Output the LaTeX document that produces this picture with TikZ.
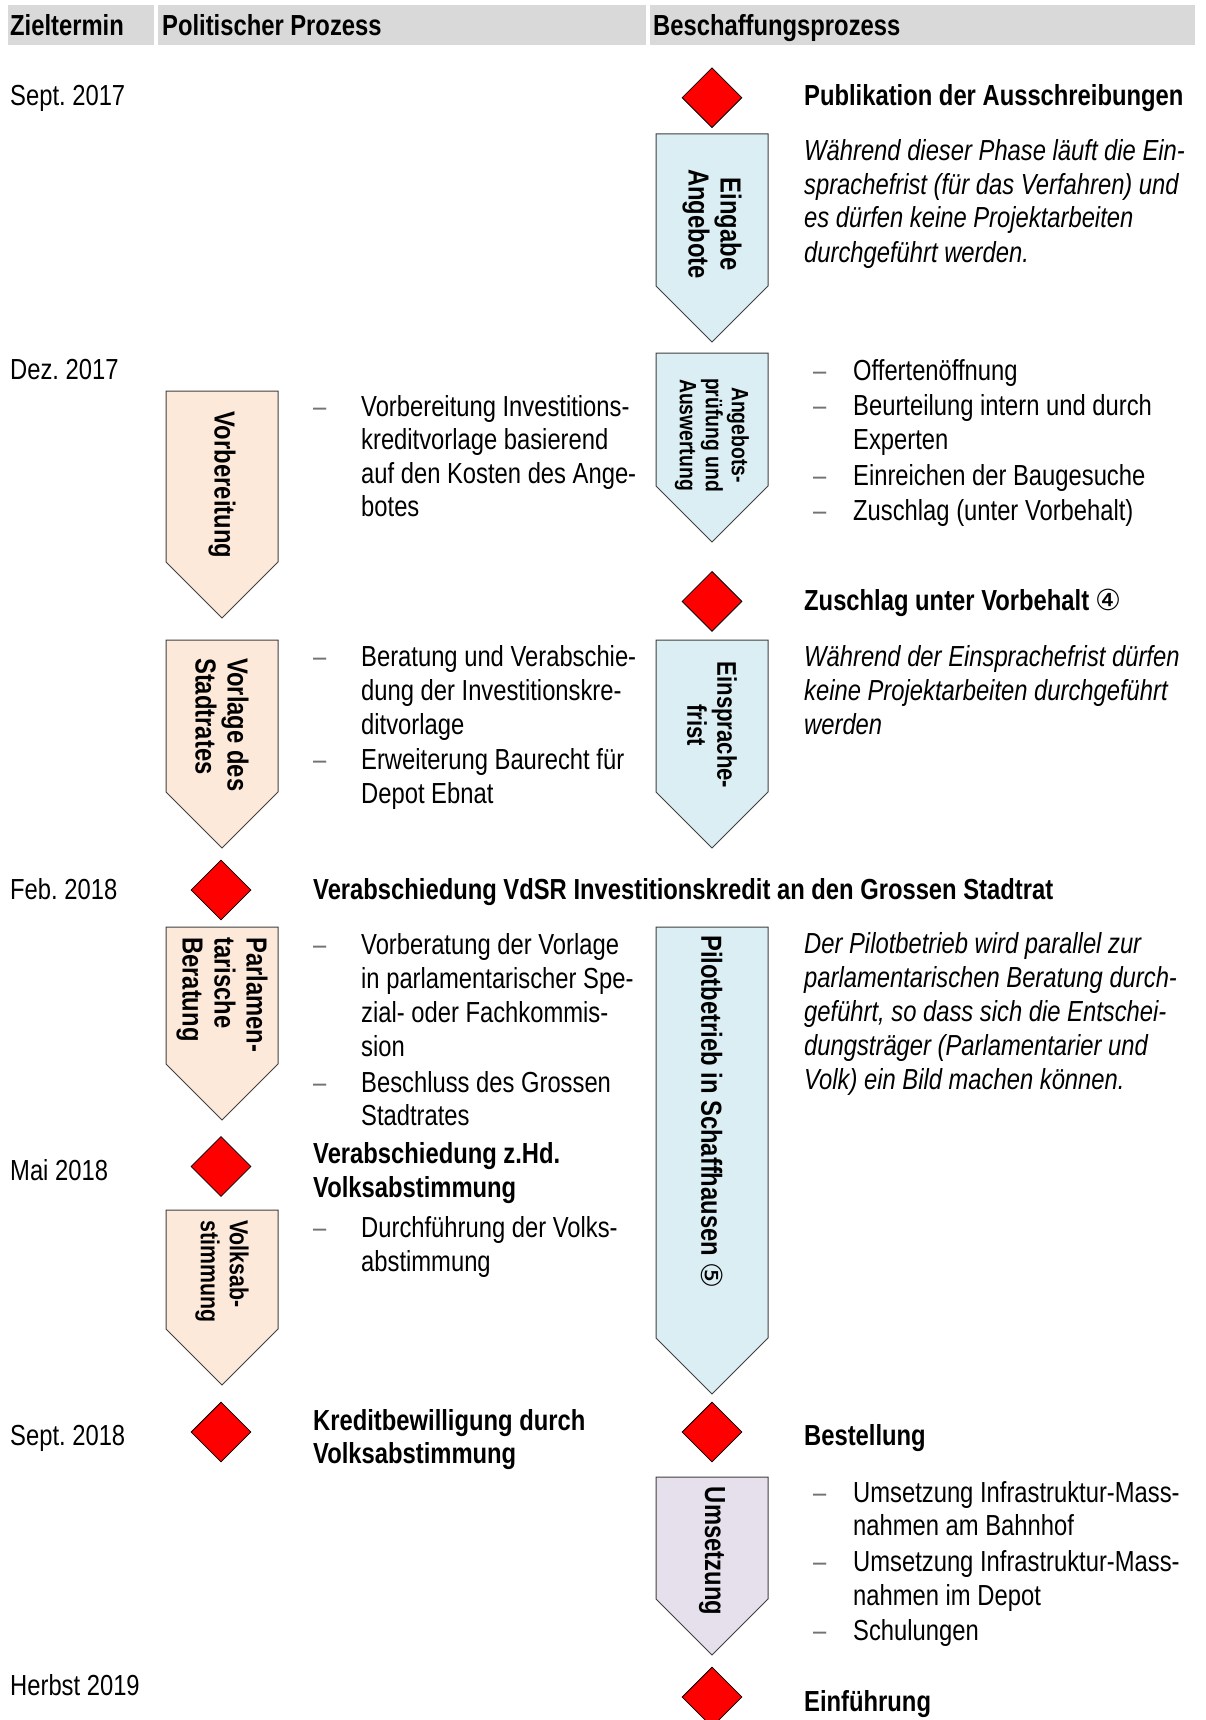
\documentclass[tikz,border=0pt]{standalone}
\usepackage{fontspec}
\setmainfont{Liberation Sans}[FakeStretch=0.82]
\newfontfamily\symfont{DejaVu Sans}
\usetikzlibrary{shapes.geometric}
\definecolor{hdrgray}{HTML}{D9D9D9}
\definecolor{pblue}{HTML}{DAEEF3}
\definecolor{ppeach}{HTML}{FDE9D9}
\definecolor{plav}{HTML}{E5E0EC}
\definecolor{dashgray}{gray}{0.45}
\frenchspacing
\newcommand\pentshape[4]{%
  \draw[pshape, fill=#4] (#1-56,#2) -- (#1+56,#2) -- (#1+56,#3-56) -- (#1,#3) -- (#1-56,#3-56) -- cycle;}
\begin{document}
\begin{tikzpicture}[x=1pt,y=-1pt,
 txt/.style={anchor=base west, inner sep=0pt, font=\fontsize{29}{34}\selectfont},
 btxt/.style={txt, font=\fontsize{29}{34}\selectfont\bfseries},
 itxt/.style={txt, font=\fontsize{29}{34}\selectfont\itshape},
 dsh/.style={txt, text=dashgray},
 diam/.style={diamond, draw=black, line width=0.8pt, fill=red, minimum width=60pt, minimum height=60pt, inner sep=0pt},
 pshape/.style={draw=black!75, line width=1pt},
 ptxt/.style={rotate=-90, inner sep=0pt, font=\bfseries\fontsize{29}{32}\selectfont},
 hdr/.style={fill=hdrgray}
]
\useasboundingbox[fill=white] (0,0) rectangle (1206,1720);

% header
\fill[hdr] (8,5) rectangle (154,45);
\fill[hdr] (158,5) rectangle (646,45);
\fill[hdr] (650,5) rectangle (1195,45);
\node[btxt] (h1) at (10,36) {Zieltermin};
\node[btxt] (h2) at (162,36) {Politischer Prozess};
\node[btxt] (h3) at (653,36) {Beschaffungsprozess};

% dates
\node[txt] (z1) at (10,106) {Sept. 2017};
\node[txt] (z2) at (10,379) {Dez. 2017};
\node[txt] (z3) at (10,899) {Feb. 2018};
\node[txt] (z4) at (10,1180) {Mai 2018};
\node[txt] (z5) at (10,1445.5) {Sept. 2018};
\node[txt] (z6) at (10,1695.7) {Herbst 2019};

% pentagons
\pentshape{712}{134}{342}{pblue}
\pentshape{712}{353}{542}{pblue}
\pentshape{712}{640}{848}{pblue}
\pentshape{712}{927}{1394}{pblue}
\pentshape{712}{1477}{1655}{plav}
\pentshape{222}{391}{618}{ppeach}
\pentshape{222}{640}{848}{ppeach}
\pentshape{222}{927}{1120}{ppeach}
\pentshape{222}{1210}{1385}{ppeach}

\node[ptxt, align=center] (tp1) at (712,224) {Eingabe\\Angebote};
\node[ptxt, align=center, font=\bfseries\fontsize{23.6}{26}\selectfont] (tp2) at (712,435) {Angebots-\\prüfung und\\Auswertung};
\node[ptxt, align=center, font=\bfseries\fontsize{27}{30}\selectfont] (tp3) at (712,725) {Einsprache-\\frist};
\node[ptxt] (tp4) at (712,1112) {Pilotbetrieb in Schaffhausen {\symfont\mdseries ⑤}};
\node[ptxt] (tp5) at (712,1551) {Umsetzung};
\node[ptxt] (tl1) at (222,485) {Vorbereitung};
\node[ptxt, align=left, anchor=west] (tl2) at (222,658) {Vorlage des\\Stadtrates};
\node[ptxt, align=left, anchor=west] (tl3) at (222,937) {Parlamen-\\tarische\\Beratung};
\node[ptxt, align=left, anchor=west, font=\bfseries\fontsize{26}{29}\selectfont] (tl4) at (222,1220) {Volksab-\\stimmung};

% diamonds
\node[diam] (d1) at (712,97.7) {};
\node[diam] (d2) at (712,601.4) {};
\node[diam] (d3) at (221,890) {};
\node[diam] (d4) at (221,1166.5) {};
\node[diam] (d5) at (221,1432) {};
\node[diam] (d6) at (712,1432) {};
\node[diam] (d7) at (712,1697) {};

% middle column
\foreach \yy [count=\i] in {416,666,769.5,954,1092,1237}
  \node[dsh] (md\i) at (313,\yy) {–};
\foreach \yy/\mytext [count=\i] in {416/Vorbereitung Investitions-, 449/kreditvorlage basierend, 483/auf den Kosten des Ange-, 516/botes,
  666/Beratung und Verabschie-, 700/dung der Investitionskre-, 734/ditvorlage, 769.5/Erweiterung Baurecht für, 803.5/Depot Ebnat,
  954/Vorberatung der Vorlage, 988/in parlamentarischer Spe-, 1022/zial- oder Fachkommis-, 1056/sion, 1092/Beschluss des Grossen, 1125/Stadtrates,
  1237/Durchführung der Volks-, 1271/abstimmung}
  \node[txt] (m\i) at (361,\yy) {\mytext};
\node[btxt] (mb1) at (313,899) {Verabschiedung VdSR Investitionskredit an den Grossen Stadtrat};
\node[btxt] (mb2) at (313,1163.5) {Verabschiedung z.Hd.};
\node[btxt] (mb3) at (313,1197.5) {Volksabstimmung};
\node[btxt] (mb4) at (313,1430) {Kreditbewilligung durch};
\node[btxt] (mb5) at (313,1463) {Volksabstimmung};

% right column
\node[btxt] (rb1) at (804,105.6) {Publikation der Ausschreibungen};
\node[btxt] (rb2) at (804,610.4) {Zuschlag unter Vorbehalt {\symfont\mdseries ④}};
\node[btxt] (rb3) at (804,1445.5) {Bestellung};
\node[btxt] (rb4) at (804,1711) {Einführung};
\foreach \yy/\mytext [count=\i] in {160.4/Während dieser Phase läuft die Ein-, 194.5/sprachefrist (für das Verfahren) und, 227.4/es dürfen keine Projektarbeiten, 262.5/durchgeführt werden.,
  666/Während der Einsprachefrist dürfen, 700/keine Projektarbeiten durchgeführt, 734/werden,
  953/Der Pilotbetrieb wird parallel zur, 987/parlamentarischen Beratung durch-, 1021/{geführt, so dass sich die Entschei-}, 1055/dungsträger (Parlamentarier und, 1089/Volk) ein Bild machen können.}
  \node[itxt] (ri\i) at (804,\yy) {\mytext};
\foreach \yy [count=\i] in {380,415,485,520,1502.6,1571.7,1640.8}
  \node[dsh] (rd\i) at (813,\yy) {–};
\foreach \yy/\mytext [count=\i] in {380/Offertenöffnung, 415/Beurteilung intern und durch, 449/Experten, 485/Einreichen der Baugesuche, 520/Zuschlag (unter Vorbehalt),
  1502.6/Umsetzung Infrastruktur-Mass-, 1535.5/nahmen am Bahnhof, 1571.7/Umsetzung Infrastruktur-Mass-, 1605.7/nahmen im Depot, 1640.8/Schulungen}
  \node[txt] (rl\i) at (853,\yy) {\mytext};
\end{tikzpicture}
\end{document}
